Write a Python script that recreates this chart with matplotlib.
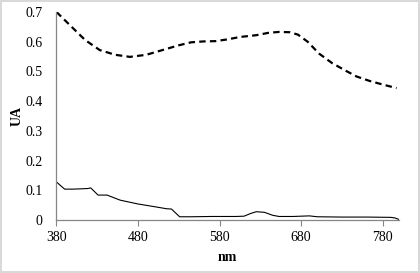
import numpy as np
import matplotlib.pyplot as plt

plt.rcParams['font.family'] = ['Liberation Serif', 'DejaVu Serif']

# dashed spectrum
wl_dash = [380, 396, 415, 433, 452, 470, 490, 510, 530, 545, 560, 575, 590, 605,
           625, 640, 653, 666, 676, 688, 702, 718, 735, 748, 764, 780, 797]
ua_dash = [0.700, 0.657, 0.606, 0.572, 0.556, 0.549, 0.556, 0.572, 0.588, 0.598,
           0.601, 0.602, 0.608, 0.616, 0.622, 0.630, 0.633, 0.632, 0.624, 0.600,
           0.560, 0.528, 0.502, 0.483, 0.468, 0.456, 0.444]

# solid spectrum
wl_solid = [380, 390, 400, 410, 418, 422, 431, 442, 458, 480, 500, 515, 521, 531,
            545, 570, 600, 610, 618, 625, 635, 645, 653, 670, 690, 700, 730, 760,
            790, 795, 800]
ua_solid = [0.128, 0.104, 0.104, 0.105, 0.106, 0.108, 0.084, 0.084, 0.067, 0.054,
            0.045, 0.038, 0.037, 0.011, 0.011, 0.012, 0.012, 0.013, 0.022, 0.028,
            0.026, 0.016, 0.012, 0.012, 0.014, 0.011, 0.010, 0.010, 0.009, 0.007,
            0.002]

xticks = [380, 480, 580, 680, 780]
yticks = [0, 0.1, 0.2, 0.3, 0.4, 0.5, 0.6, 0.7]
ytick_labels = ['0', '0.1', '0.2', '0.3', '0.4', '0.5', '0.6', '0.7']

fig = plt.figure(figsize=(4.2, 2.73), dpi=100)
fig.patch.set_edgecolor('#d9d9d9')
fig.patch.set_linewidth(1.5)
ax = fig.add_axes([0.1345, 0.194, 0.8155, 0.762])

ax.plot(wl_dash, ua_dash, color='black', lw=1.6, dashes=(2.9, 1.9))
ax.plot(wl_solid, ua_solid, color='black', lw=0.8)

ax.set_xlim(380, 800)
ax.set_ylim(0, 0.7)
ax.set_xticks(xticks)
ax.set_yticks(yticks)
ax.set_yticklabels(ytick_labels)

for s in ['top', 'right']:
    ax.spines[s].set_visible(False)
for s in ['left', 'bottom']:
    ax.spines[s].set_color('#868686')
    ax.spines[s].set_linewidth(0.9)

ax.tick_params(axis='x', direction='out', length=4, color='#868686', labelsize=10, pad=4)
ax.tick_params(axis='y', length=0, labelsize=10, pad=10)

ax.set_xlabel('nm', fontsize=10, fontweight='bold', labelpad=5)
ax.set_ylabel('UA', fontsize=10, fontweight='bold', labelpad=1)

fig.savefig('out.png', dpi=100)
